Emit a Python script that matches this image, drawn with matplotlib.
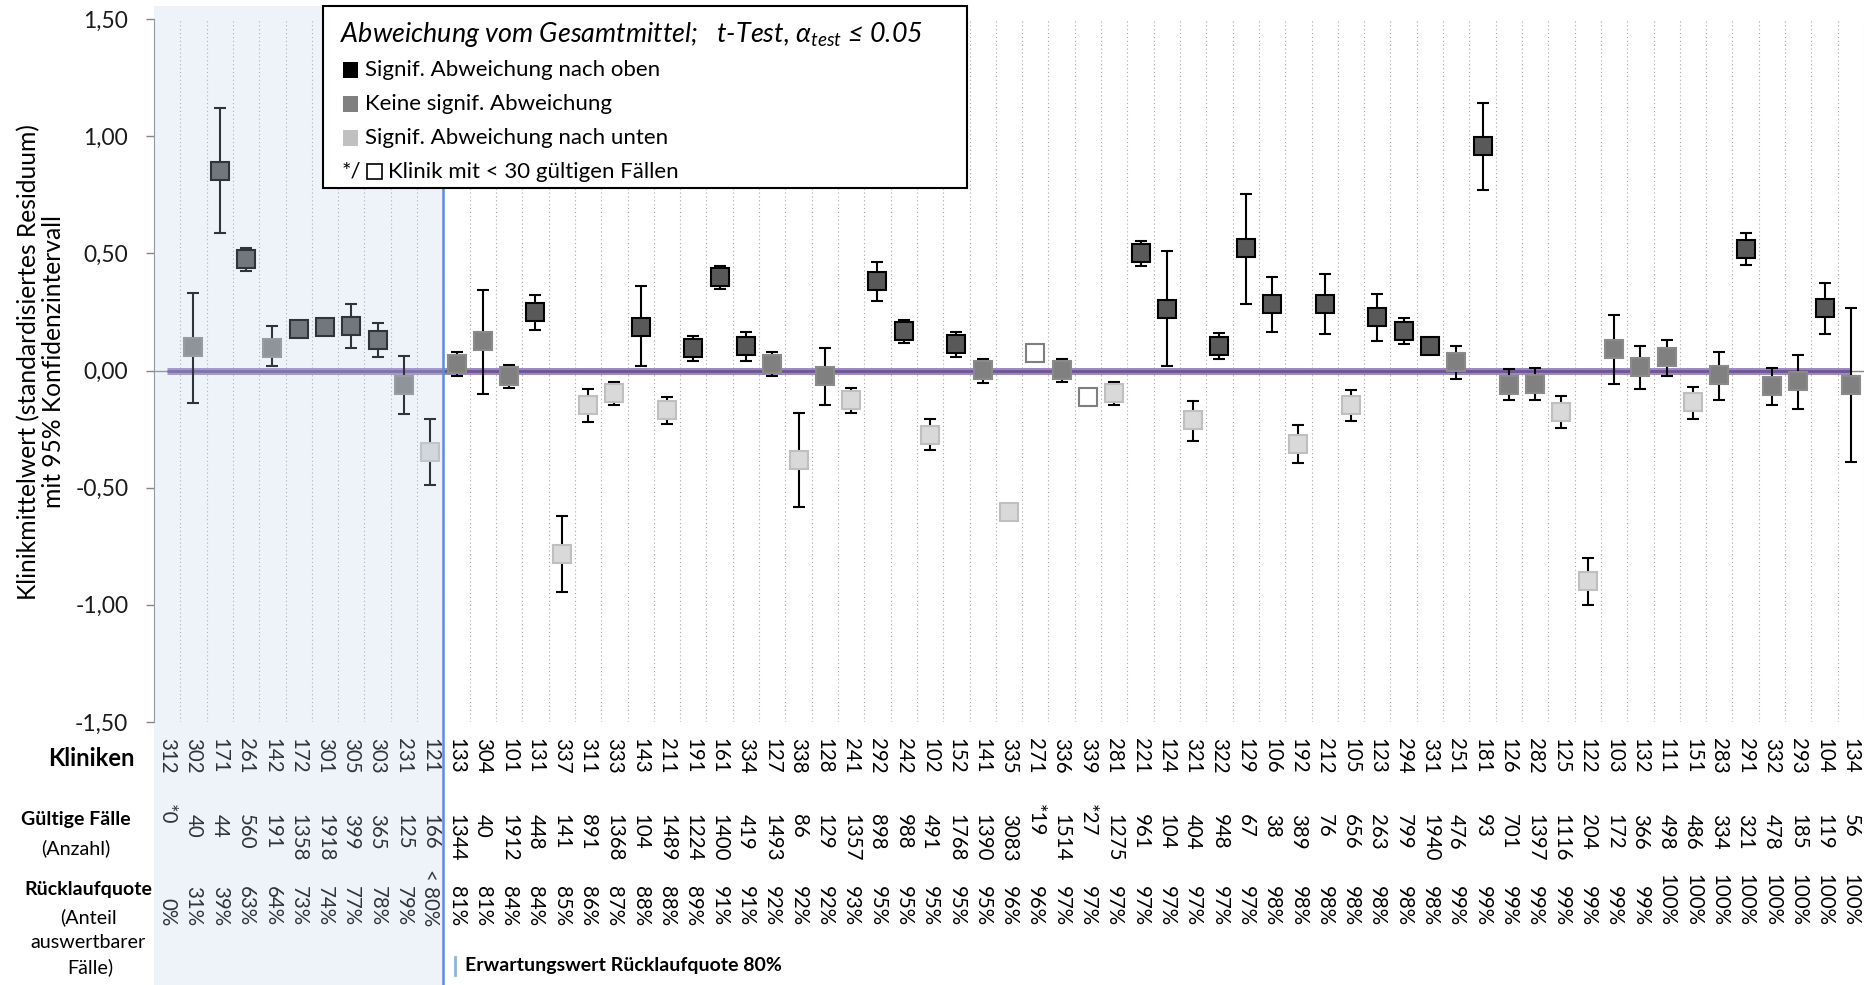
import matplotlib
matplotlib.use("Agg")
import matplotlib.pyplot as plt
from matplotlib.patches import Rectangle
from matplotlib.lines import Line2D
from matplotlib.transforms import blended_transform_factory
from matplotlib.ticker import FuncFormatter
import numpy as np

plt.rcParams['font.family'] = ['Lato', 'DejaVu Sans']
plt.rcParams['mathtext.fontset'] = 'custom'
plt.rcParams['mathtext.it'] = 'Lato:italic'
plt.rcParams['mathtext.rm'] = 'Lato'

# --- Daten ---
kliniken = ["312", "302", "171", "261", "142", "172", "301", "305", "303", "231", "121",
            "133", "304", "101", "131", "337", "311", "333", "143", "211", "191", "161", "334",
            "127", "338", "128", "241", "292", "242", "102", "152", "141", "335", "271", "336",
            "339", "281", "221", "124", "321", "322", "129", "106", "192", "212", "105", "123",
            "294", "331", "251", "181", "126", "282", "125", "122", "103", "132", "111", "151",
            "283", "291", "332", "293", "104", "134"]

faelle = [0, 40, 44, 560, 191, 1358, 1918, 399, 365, 125, 166,
          1344, 40, 1912, 448, 141, 891, 1368, 104, 1489, 1224, 1400, 419,
          1493, 86, 129, 1357, 898, 988, 491, 1768, 1390, 3083, 19, 1514,
          27, 1275, 961, 104, 404, 948, 67, 38, 389, 76, 656, 263,
          799, 1940, 476, 93, 701, 1397, 1116, 204, 172, 366, 498, 486,
          334, 321, 478, 185, 119, 56]

quote = ["0%", "31%", "39%", "63%", "64%", "73%", "74%", "77%", "78%", "79%", "< 80%",
         "81%", "81%", "84%", "84%", "85%", "86%", "87%", "88%", "88%", "89%", "91%", "91%",
         "92%", "92%", "92%", "93%", "95%", "95%", "95%", "95%", "95%", "96%", "96%", "97%",
         "97%", "97%", "97%", "97%", "97%", "97%", "97%", "98%", "98%", "98%", "98%", "98%",
         "98%", "98%", "99%", "99%", "99%", "99%", "99%", "99%", "99%", "99%", "100%", "100%",
         "100%", "100%", "100%", "100%", "100%", "100%"]

mittel = [np.nan, 0.10, 0.85, 0.475, 0.097, 0.179, 0.185, 0.189, 0.129, -0.06, -0.347,
          0.028, 0.125, -0.024, 0.249, -0.781, -0.148, -0.095, 0.185, -0.17, 0.095, 0.399, 0.104,
          0.028, -0.382, -0.024, -0.124, 0.381, 0.17, -0.274, 0.111, 0.001, -0.604, 0.075, 0.001,
          -0.115, -0.095, 0.501, 0.264, -0.213, 0.104, 0.521, 0.284, -0.312, 0.285, -0.148, 0.229,
          0.17, 0.103, 0.035, 0.958, -0.061, -0.057, -0.175, -0.9, 0.092, 0.017, 0.058, -0.136,
          -0.02, 0.52, -0.067, -0.046, 0.266, -0.061]

ki_unten = [np.nan, -0.14, 0.585, 0.423, 0.02, 0.15, 0.155, 0.094, 0.057, -0.187, -0.49,
            -0.024, -0.099, -0.074, 0.173, -0.947, -0.22, -0.146, 0.018, -0.23, 0.04, 0.349, 0.041,
            -0.024, -0.582, -0.146, -0.18, 0.295, 0.118, -0.341, 0.058, -0.052, -0.63, np.nan, -0.047,
            np.nan, -0.149, 0.447, 0.018, -0.301, 0.047, 0.285, 0.165, -0.393, 0.155, -0.217, 0.125,
            0.111, 0.08, -0.037, 0.77, -0.128, -0.128, -0.244, -0.999, -0.057, -0.079, -0.022, -0.206,
            -0.128, 0.449, -0.147, -0.163, 0.155, -0.39]

ki_oben = [np.nan, 0.33, 1.12, 0.523, 0.19, 0.205, 0.21, 0.283, 0.203, 0.061, -0.209,
           0.08, 0.345, 0.023, 0.321, -0.621, -0.078, -0.047, 0.362, -0.114, 0.149, 0.447, 0.166,
           0.081, -0.183, 0.095, -0.074, 0.461, 0.217, -0.209, 0.165, 0.05, -0.58, np.nan, 0.05,
           np.nan, -0.047, 0.554, 0.508, -0.132, 0.16, 0.754, 0.399, -0.234, 0.413, -0.084, 0.328,
           0.224, 0.125, 0.103, 1.141, 0.005, 0.01, -0.11, -0.802, 0.236, 0.106, 0.129, -0.072,
           0.08, 0.586, 0.01, 0.068, 0.372, 0.265]

# o = signif. nach oben, k = keine, u = signif. nach unten, n = < 30 Faelle, - = keine Daten
status = ["-", "k", "o", "o", "k", "o", "o", "o", "o", "k", "u",
          "k", "k", "k", "o", "u", "u", "u", "o", "u", "o", "o", "o",
          "k", "u", "k", "u", "o", "o", "u", "o", "k", "u", "n", "k",
          "n", "u", "o", "o", "u", "o", "o", "o", "u", "o", "u", "o",
          "o", "o", "k", "o", "k", "k", "u", "u", "k", "k", "k", "u",
          "k", "o", "k", "k", "o", "k"]

n_unter_80 = 11

W, H = 1876, 985


def fx(px):
    return px / W


def fy(py):
    return 1 - py / H


fig = plt.figure(figsize=(W / 100, H / 100), dpi=100)
ax = fig.add_axes([fx(154), fy(722), fx(1864) - fx(154), fy(19) - fy(722)])

n = len(kliniken)
x = np.arange(n)
mittel = np.array(mittel)
ki_unten = np.array(ki_unten)
ki_oben = np.array(ki_oben)
status = np.array(status)

ax.set_xlim(-0.5, n - 0.5)
ax.set_ylim(-1.5, 1.5)

# gepunktete Trennlinien zwischen den Kliniken
for k in range(n):
    ax.axvline(k + 0.5, color="#a6a6a6", lw=0.8, ls=(0, (1, 2.5)), zorder=1)

ax.axhline(0, color="#868686", lw=1, zorder=1.5)
ax.plot([0, n - 1], [0, 0], color="#9c88bf", lw=5, solid_capstyle="butt", zorder=2)
ax.plot([0, n - 1], [0, 0], color="#6f5496", lw=2, solid_capstyle="butt", zorder=2.1)

m = ~np.isnan(ki_unten)
ax.errorbar(x[m], mittel[m], yerr=[mittel[m] - ki_unten[m], ki_oben[m] - mittel[m]],
            fmt="none", ecolor="black", elinewidth=1.5, capsize=4.5, capthick=1.5, zorder=3)

farben = {"o": ("#595959", "#000000"),
          "k": ("#808080", "#8a8a8a"),
          "u": ("#d9d9d9", "#bfbfbf"),
          "n": ("#ffffff", "#7f7f7f")}
for s, (fc, ec) in farben.items():
    m = status == s
    ax.plot(x[m], mittel[m], ls="none", marker="s", ms=12.5, mfc=fc, mec=ec, mew=1.5, zorder=4)

for sp in ["top", "right", "bottom"]:
    ax.spines[sp].set_visible(False)
ax.spines["left"].set_color("#868686")
ax.set_xticks([])
ax.set_yticks([-1.5, -1.0, -0.5, 0, 0.5, 1.0, 1.5])
ax.yaxis.set_major_formatter(FuncFormatter(lambda v, p: ("%.2f" % v).replace(".", ",")))
ax.tick_params(axis="y", direction="out", length=5.5, width=1, color="#868686",
               labelsize=16.4, pad=13, labelcolor="#1a1a1a")

fig.text(fx(41), fy(362), "Klinikmittelwert (standardisiertes Residuum)\nmit 95% Konfidenzintervall",
         rotation=90, ha="center", va="center", fontsize=17.7, multialignment="center",
         linespacing=1.1)

# Tabelle unter dem Diagramm
tr = blended_transform_factory(ax.transData, fig.transFigure)
gr = 14.8
for i in range(n):
    fig.text(i, fy(738), kliniken[i], transform=tr, rotation=270, ha="center", va="top", fontsize=gr)
    if faelle[i] < 30:
        fig.text(i, fy(804), "*" + str(faelle[i]), transform=tr, rotation=270, ha="center", va="top", fontsize=gr)
    else:
        fig.text(i, fy(814), str(faelle[i]), transform=tr, rotation=270, ha="center", va="top", fontsize=gr)
    fig.text(i, fy(926), quote[i], transform=tr, rotation=270, ha="center", va="bottom", fontsize=gr)

fig.text(fx(135), fy(758), "Kliniken", ha="right", va="center", fontsize=17.1, weight="bold")
fig.text(fx(76), fy(820), "Gültige Fälle", ha="center", va="center", fontsize=14, weight="bold")
fig.text(fx(76), fy(848), "(Anzahl)", ha="center", va="center", fontsize=14.2)
fig.text(fx(88), fy(890), "Rücklaufquote", ha="center", va="center", fontsize=14, weight="bold")
fig.text(fx(88), fy(917), "(Anteil", ha="center", va="center", fontsize=14.2)
fig.text(fx(88), fy(942), "auswertbarer", ha="center", va="center", fontsize=14.2)
fig.text(fx(90), fy(967), "Fälle)", ha="center", va="center", fontsize=14.2)

# Bereich Ruecklaufquote < 80%
fig.add_artist(Rectangle((-0.5, 0), n_unter_80, fy(6), transform=tr,
                         facecolor="#bfd0ec", alpha=0.25, lw=0, zorder=5))
fig.add_artist(Line2D([n_unter_80 - 0.5, n_unter_80 - 0.5], [0, fy(6)], transform=tr,
                      color="#5b8fd6", lw=1.8, zorder=6))
fig.add_artist(Line2D([fx(455), fx(455)], [fy(957), fy(975)], color="#8db4e2", lw=2, zorder=6))
fig.text(fx(465), fy(966), "Erwartungswert Rücklaufquote 80%", va="center", fontsize=14, weight="bold")

# Legende
fig.add_artist(Rectangle((fx(323), fy(188)), fx(967) - fx(323), fy(6) - fy(188),
                         facecolor="white", edgecolor="black", lw=1.5, zorder=10))
fig.text(fx(340), fy(42), r"Abweichung vom Gesamtmittel;   t-Test, $\alpha_{test}$ ≤ 0.05",
         style="italic", fontsize=19.4, va="baseline", zorder=11)
eintraege = [(70, "#000000", "Signif. Abweichung nach oben"),
             (104, "#808080", "Keine signif. Abweichung"),
             (138, "#c0c0c0", "Signif. Abweichung nach unten")]
for yy, c, txt in eintraege:
    fig.add_artist(Rectangle((fx(343), fy(yy + 7.5)), fx(15), 15 / H, facecolor=c, lw=0, zorder=11))
    fig.text(fx(365), fy(yy), txt, va="center", fontsize=16, zorder=11)
fig.text(fx(342), fy(172), "*/", va="center", fontsize=16, zorder=11)
fig.add_artist(Rectangle((fx(367), fy(179)), fx(15), 15 / H, facecolor="white",
                         edgecolor="black", lw=1.2, zorder=11))
fig.text(fx(388), fy(172), "Klinik mit < 30 gültigen Fällen", va="center", fontsize=16, zorder=11)

fig.savefig("out.png", dpi=100)
